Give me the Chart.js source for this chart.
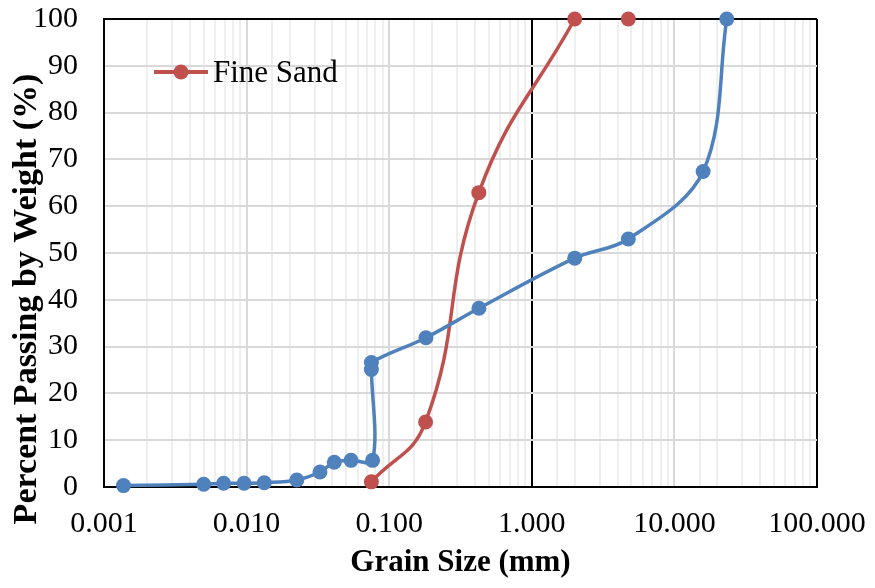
<!DOCTYPE html>
<html>
<head>
<meta charset="utf-8">
<script src="https://cdn.jsdelivr.net/npm/chart.js@4/dist/chart.umd.min.js"></script>
<style>
  body { margin: 0; background: #fff; }
  #wrap { width: 875px; height: 588px; }
</style>
</head>
<body>
<div id="wrap"><canvas id="grainChart" width="875" height="588"></canvas></div>
<script>
// grain size distribution (mm / % passing)
var soilSize = [0.00137, 0.0050, 0.0069, 0.0096, 0.0133, 0.0225, 0.0327, 0.0412, 0.054, 0.0765, 0.075, 0.075, 0.181, 0.426, 2.0, 4.75, 15.9, 23.3];
var soilPassing = [0.3, 0.6, 0.8, 0.8, 0.9, 1.5, 3.2, 5.3, 5.7, 5.7, 25.1, 26.6, 31.9, 38.2, 48.9, 53.0, 67.4, 100];

// Fine Sand - the null leaves a gap between 2.0 and 4.75
var sandSize = [0.075, 0.18, 0.425, 2.0, 3.0, 4.75];
var sandPassing = [1.1, 13.9, 62.9, 100, null, 100];

var xTickLabels = ['0.001', '0.010', '0.100', '1.000', '10.000', '100.000'];
var yTicks = [0, 10, 20, 30, 40, 50, 60, 70, 80, 90, 100];

var BLUE = '#4F81BD';
var RED = '#C0504D';
var FONT = "'Liberation Serif', 'Times New Roman', serif";

function toPoints(xs, ys) {
  return xs.map(function(x, i) { return { x: x, y: ys[i] }; });
}

function isDecade(v) {
  var l = Math.log10(v);
  return Math.abs(l - Math.round(l)) < 1e-9;
}

// legend inside the plot + rotated y title
var extras = {
  id: 'extras',
  afterDraw: function(chart) {
    var ctx = chart.ctx;
    ctx.save();
    // legend
    ctx.strokeStyle = RED;
    ctx.lineWidth = 4;
    ctx.beginPath();
    ctx.moveTo(154, 72);
    ctx.lineTo(208, 72);
    ctx.stroke();
    ctx.fillStyle = RED;
    ctx.beginPath();
    ctx.arc(181, 72, 7.5, 0, Math.PI * 2);
    ctx.fill();
    ctx.fillStyle = '#000';
    ctx.font = '31px ' + FONT;
    ctx.textAlign = 'left';
    ctx.textBaseline = 'alphabetic';
    ctx.fillText(chart.data.datasets[1].label, 213, 82);
    // y axis title
    ctx.translate(36, 299);
    ctx.rotate(-Math.PI / 2);
    ctx.font = 'bold 34px ' + FONT;
    ctx.textAlign = 'center';
    ctx.fillText('Percent Passing by Weight (%)', 0, 0);
    ctx.restore();
  }
};

var ctx = document.getElementById('grainChart').getContext('2d');
var chart = new Chart(ctx, {
  type: 'line',
  data: {
    datasets: [{
      label: 'Soil',
      data: toPoints(soilSize, soilPassing),
      borderColor: BLUE,
      backgroundColor: BLUE,
      borderWidth: 3.5,
      pointRadius: 7.5,
      pointBorderWidth: 0,
      pointHoverRadius: 7.5,
      tension: 0.35,
      clip: false
    }, {
      label: 'Fine Sand',
      data: toPoints(sandSize, sandPassing),
      borderColor: RED,
      backgroundColor: RED,
      borderWidth: 3.5,
      pointRadius: 7.5,
      pointBorderWidth: 0,
      pointHoverRadius: 7.5,
      tension: 0.45,
      spanGaps: false,
      clip: false
    }]
  },
  options: {
    responsive: false,
    animation: false,
    layout: { padding: { top: 19, right: 58, left: 0, bottom: 0 } },
    plugins: {
      legend: { display: false },
      tooltip: { enabled: false }
    },
    scales: {
      x: {
        type: 'logarithmic',
        min: 0.001,
        max: 100,
        afterFit: function(scale) {
          scale.height = 101;
          scale.paddingLeft = 0;
          scale.paddingRight = 0;
        },
        border: { display: true, color: '#000', width: 2 },
        grid: {
          drawTicks: false,
          color: function(c) {
            var v = c.tick.value;
            if (v === 1 || v === 100 || v === 0.001) return '#000';
            return isDecade(v) ? '#d9d9d9' : '#efefef';
          },
          lineWidth: 2
        },
        ticks: {
          autoSkip: false,
          maxRotation: 0,
          minRotation: 0,
          padding: 19,
          color: '#000',
          font: { family: FONT, size: 30 },
          callback: function(v) {
            if (!isDecade(v)) return '';
            var i = Math.round(Math.log10(v)) + 3;
            return xTickLabels[i];
          }
        },
        title: {
          display: true,
          text: 'Grain Size (mm)',
          color: '#000',
          font: { family: FONT, size: 31, weight: 'bold' },
          padding: { top: 0, bottom: 6 }
        }
      },
      y: {
        min: 0,
        max: 100,
        afterFit: function(scale) {
          scale.width = 104;
          scale.paddingTop = 0;
          scale.paddingBottom = 0;
        },
        afterBuildTicks: function(scale) {
          scale.ticks = yTicks.map(function(v) { return { value: v }; });
        },
        border: { display: true, color: '#000', width: 2 },
        grid: {
          drawTicks: false,
          color: function(c) { return c.tick.value === 100 ? '#000' : '#d9d9d9'; },
          lineWidth: 2
        },
        ticks: {
          padding: 26,
          color: '#000',
          font: { family: FONT, size: 30 }
        }
      }
    }
  },
  plugins: [extras]
});
</script>
</body>
</html>
